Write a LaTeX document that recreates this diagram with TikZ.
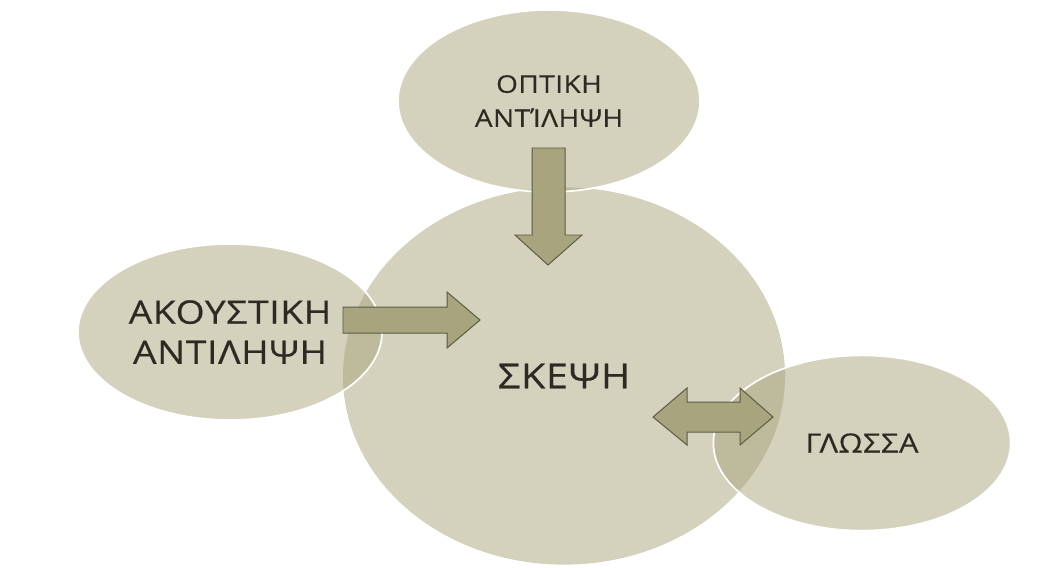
\documentclass[tikz,border=0pt]{standalone}
\usepackage{fontspec}
\setmainfont[FakeStretch=1.15, LetterSpace=2, FakeBold=0.4]{Open Sans}
\usetikzlibrary{shapes.geometric}
\definecolor{khaki}{RGB}{169,165,123}
\definecolor{arrowfill}{RGB}{168,165,126}
\definecolor{arrowline}{RGB}{92,90,68}
\definecolor{txt}{RGB}{44,42,34}
\tikzset{
  bubble/.style={ellipse, fill=khaki, fill opacity=0.5, text opacity=1, draw=white, line width=1.2pt, inner sep=0pt, text=txt, align=center},
  blockarrow/.style={fill=arrowfill, draw=arrowline, line width=0.7pt}
}
\begin{document}
\begin{tikzpicture}[x=0.025cm,y=-0.025cm]
            \useasboundingbox (0,0) rectangle (1043,567);
            \node[bubble, draw=none, minimum width=11.05cm, minimum height=9.43cm, font=\fontsize{24.5}{30}\selectfont] (skepsi) at (564,376) {ΣΚΕΨΗ};
            \node[bubble, minimum width=7.6cm, minimum height=4.4cm, font=\fontsize{23}{28.5}\selectfont] (akoustiki) at (230,332) {ΑΚΟΥΣΤΙΚΗ\\ΑΝΤΙΛΗΨΗ};
            \node[bubble, minimum width=7.55cm, minimum height=4.55cm, font=\fontsize{17.3}{24.2}\selectfont] (optiki) at (549,101) {ΟΠΤΙΚΗ\\ΑΝΤΊΛΗΨΗ};
            \node[bubble, minimum width=7.43cm, minimum height=4.38cm, font=\fontsize{19}{22}\selectfont] (glossa) at (862,443) {ΓΛΩΣΣΑ};
            \draw[blockarrow] (532,148) -- (565,148) -- (565,235) -- (582,235) -- (548,265) -- (515,235) -- (532,235) -- cycle;
            \draw[blockarrow] (343,307) -- (447,307) -- (447,292) -- (480,320) -- (447,348) -- (447,333) -- (343,333) -- cycle;
            \draw[blockarrow] (653,417) -- (687,388) -- (687,402) -- (740,402) -- (740,388) -- (773,417) -- (740,445) -- (740,432) -- (687,432) -- (687,445) -- cycle;
\end{tikzpicture}
\end{document}
